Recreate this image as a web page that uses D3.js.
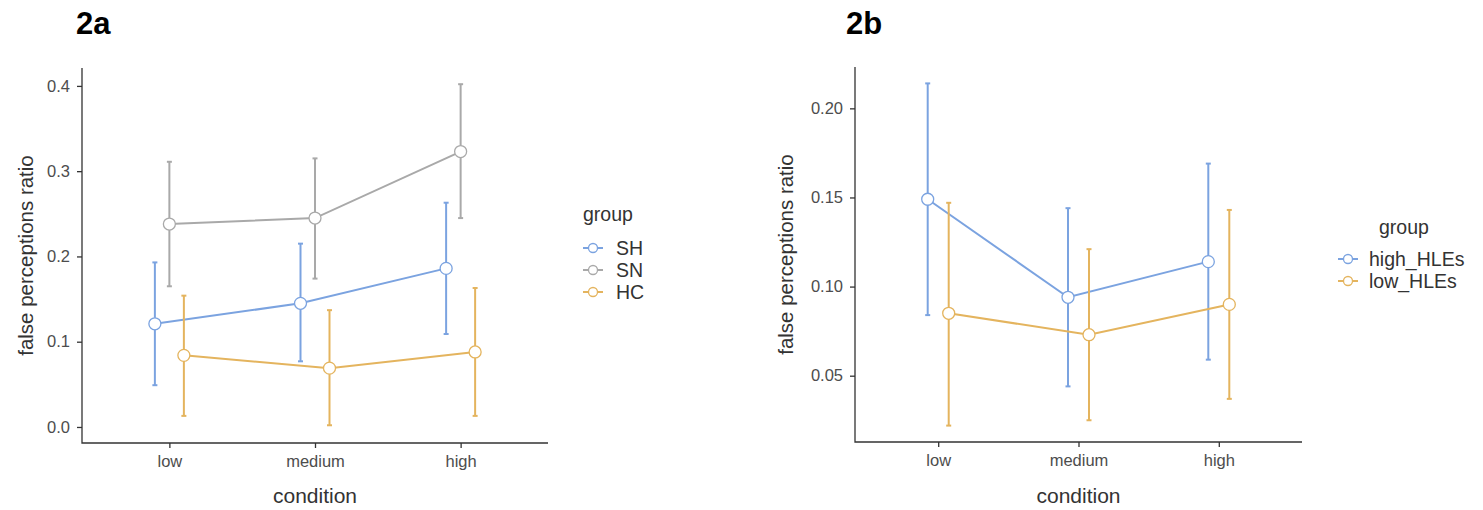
<!DOCTYPE html>
<html>
<head>
<meta charset="utf-8">
<script src="https://cdn.jsdelivr.net/npm/d3@7"></script>
<style>
  body { margin: 0; background: #fff; }
  svg { font-family: "Liberation Sans", Arial, sans-serif; }
</style>
</head>
<body>
<svg width="1483" height="510"></svg>
<script>
const conditions = ["low", "medium", "high"];

// panel 2a
const groupsA = ["SH", "SN", "HC"];
const meanA = { SH: [0.121, 0.145, 0.186], SN: [0.238, 0.245, 0.323], HC: [0.084, 0.069, 0.088] };
const lowA  = { SH: [0.049, 0.077, 0.109], SN: [0.165, 0.174, 0.245], HC: [0.013, 0.002, 0.013] };
const highA = { SH: [0.193, 0.215, 0.263], SN: [0.311, 0.315, 0.402], HC: [0.154, 0.137, 0.163] };
const ticksA = [0.0, 0.1, 0.2, 0.3, 0.4];

// panel 2b
const groupsB = ["high_HLEs", "low_HLEs"];
const meanB = { high_HLEs: [0.149, 0.094, 0.114], low_HLEs: [0.085, 0.073, 0.090] };
const lowB  = { high_HLEs: [0.084, 0.044, 0.059], low_HLEs: [0.022, 0.025, 0.037] };
const highB = { high_HLEs: [0.214, 0.144, 0.169], low_HLEs: [0.147, 0.121, 0.143] };
const ticksB = [0.05, 0.10, 0.15, 0.20];

const colors = { SH: "#7ba3e0", SN: "#a9a9a9", HC: "#e4b45e", high_HLEs: "#7ba3e0", low_HLEs: "#e4b45e" };

let svg = d3.select("svg");

function panel(p) {
  let g = svg.append("g");
  let x = d3.scalePoint().domain(conditions).range([p.x0, p.x1]).padding(p.pad);
  let y = d3.scaleLinear().domain(p.ydom).range([p.y0, p.y1]);

  // axes
  let yAxis = d3.axisLeft(y).tickValues(p.ticks).tickFormat(d3.format(p.fmt)).tickSize(5);
  let ya = g.append("g").attr("transform", `translate(${p.x0},0)`).call(yAxis);
  let xAxis = d3.axisBottom(x).tickSize(5);
  let xa = g.append("g").attr("transform", `translate(0,${p.y0})`).call(xAxis);
  [ya, xa].forEach(a => {
    a.select(".domain").remove();
    a.selectAll(".tick line").attr("stroke", "#333").attr("stroke-width", 1.3);
    a.selectAll(".tick text").attr("fill", "#4d4d4d").style("font-size", "16.5px");
  });
  ya.selectAll(".tick text").attr("x", -12);
  xa.selectAll(".tick text").attr("y", 12);
  g.append("path").attr("d", `M${p.x0},${p.y1}V${p.y0}H${p.x1}`)
    .attr("fill", "none").attr("stroke", "#333").attr("stroke-width", 1.3);

  g.append("text").attr("transform", `translate(${p.ytitleX},${(p.y0 + p.y1) / 2}) rotate(-90)`)
    .attr("text-anchor", "middle").attr("fill", "#333").style("font-size", "20.5px")
    .text("false perceptions ratio");
  g.append("text").attr("x", (p.x0 + p.x1) / 2).attr("y", 503)
    .attr("text-anchor", "middle").attr("fill", "#333").style("font-size", "21px")
    .text("condition");
  g.append("text").attr("x", p.titleX).attr("y", 34)
    .attr("font-weight", "bold").style("font-size", "31px").attr("fill", "#000")
    .text(p.title);

  let n = p.groups.length;
  p.groups.forEach((grp, i) => {
    let off = (i - (n - 1) / 2) * p.dodge;
    let pts = conditions.map((c, j) => ({ x: x(c) + off, m: p.mean[grp][j], lo: p.low[grp][j], hi: p.high[grp][j] }));
    let col = colors[grp];
    let line = d3.line().x(d => d.x).y(d => y(d.m));
    g.append("path").datum(pts).attr("d", line).attr("fill", "none").attr("stroke", col).attr("stroke-width", 2);
    pts.forEach(d => {
      g.append("line").attr("x1", d.x).attr("x2", d.x).attr("y1", y(d.lo)).attr("y2", y(d.hi))
        .attr("stroke", col).attr("stroke-width", 2);
      [d.lo, d.hi].forEach(v => {
        g.append("line").attr("x1", d.x - 2.5).attr("x2", d.x + 2.5).attr("y1", y(v)).attr("y2", y(v))
          .attr("stroke", col).attr("stroke-width", 2);
      });
    });
    g.selectAll(null).data(pts).enter().append("circle")
      .attr("cx", d => d.x).attr("cy", d => y(d.m)).attr("r", 6)
      .attr("fill", "#fff").attr("stroke", col).attr("stroke-width", 1.3);

    // legend
    let ly = p.legY + i * p.legStep;
    g.append("line").attr("x1", p.legX - 10).attr("x2", p.legX + 10).attr("y1", ly).attr("y2", ly)
      .attr("stroke", col).attr("stroke-width", 2);
    g.append("circle").attr("cx", p.legX).attr("cy", ly).attr("r", 4.5)
      .attr("fill", "#fff").attr("stroke", col).attr("stroke-width", 1.3);
    g.append("text").attr("x", p.legTextX).attr("y", ly).attr("dy", "0.35em")
      .attr("fill", "#333").style("font-size", "19.5px").text(grp);
  });
  g.append("text").attr("x", p.legTitleX).attr("y", p.legTitleY)
    .attr("fill", "#333").style("font-size", "19.5px").text("group");
}

panel({
  title: "2a", titleX: 76, x0: 82, x1: 548, pad: 0.6, y0: 443, y1: 68, ydom: [-0.0188, 0.421],
  ticks: ticksA, fmt: ".1f", ytitleX: 33, groups: groupsA, mean: meanA, low: lowA, high: highA,
  dodge: 14.5, legX: 593, legTextX: 616, legY: 248, legStep: 22, legTitleX: 583, legTitleY: 221
});
panel({
  title: "2b", titleX: 846, x0: 855, x1: 1302, pad: 0.593, y0: 442, y1: 67, ydom: [0.0128, 0.2232],
  ticks: ticksB, fmt: ".2f", ytitleX: 793, groups: groupsB, mean: meanB, low: lowB, high: highB,
  dodge: 21, legX: 1348, legTextX: 1369, legY: 259, legStep: 22, legTitleX: 1379, legTitleY: 234
});
</script>
</body>
</html>
